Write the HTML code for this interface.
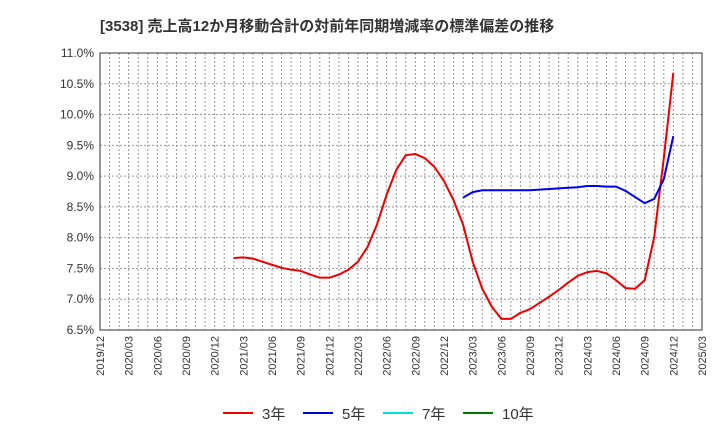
<!DOCTYPE html>
<html><head><meta charset="utf-8"><style>
body{margin:0;background:#fff;font-family:"Liberation Sans","Noto Sans CJK JP",sans-serif;}
svg text{font-family:"Liberation Sans","Noto Sans CJK JP",sans-serif;}
</style></head><body>
<svg id="c" width="720" height="440" xmlns="http://www.w3.org/2000/svg">
<text x="100" y="31" font-size="15" font-weight="bold" fill="#333">[3538]  売上高12か月移動合計の対前年同期増減率の標準偏差の推移</text>
<g id="grid"></g><g id="axes"></g><g id="series"></g>
<g>
<g><line x1="223" y1="413" x2="253" y2="413" stroke="#e00" stroke-width="2"/><text x="262" y="419" font-size="15" fill="#333">3年</text></g>
<g><line x1="303" y1="413" x2="333" y2="413" stroke="#00c" stroke-width="2"/><text x="342" y="419" font-size="15" fill="#333">5年</text></g>
<g><line x1="383" y1="413" x2="413" y2="413" stroke="#0dd" stroke-width="2"/><text x="422" y="419" font-size="15" fill="#333">7年</text></g>
<g><line x1="463" y1="413" x2="493" y2="413" stroke="#070" stroke-width="2"/><text x="502" y="419" font-size="15" fill="#333">10年</text></g>
</g>
</svg>
<script>
const xTickLabels=["2019/12","2020/03","2020/06","2020/09","2020/12","2021/03","2021/06","2021/09","2021/12","2022/03","2022/06","2022/09","2022/12","2023/03","2023/06","2023/09","2023/12","2024/03","2024/06","2024/09","2024/12","2025/03"];
const yTicks=[6.5,7.0,7.5,8.0,8.5,9.0,9.5,10.0,10.5,11.0];
const red3Start=14;
const red3=[7.67,7.68,7.66,7.61,7.56,7.51,7.48,7.46,7.40,7.35,7.35,7.40,7.48,7.61,7.85,8.22,8.70,9.10,9.34,9.36,9.29,9.15,8.92,8.61,8.21,7.61,7.17,6.88,6.68,6.68,6.78,6.84,6.94,7.04,7.15,7.27,7.38,7.44,7.46,7.42,7.31,7.18,7.17,7.31,8.01,9.29,10.68];
const blue5Start=38;
const blue5=[8.65,8.74,8.77,8.77,8.77,8.77,8.77,8.77,8.78,8.79,8.80,8.81,8.82,8.84,8.84,8.83,8.83,8.76,8.66,8.56,8.63,8.95,9.65];
const L=100,R=702,T=53,B=330,NM=63;
const X=m=>L+(R-L)*m/NM, Y=v=>B-(v-6.5)/4.5*(B-T);
const NS="http://www.w3.org/2000/svg";
function mk(p,t,a){const e=document.createElementNS(NS,t);for(const k in a)e.setAttribute(k,a[k]);p.appendChild(e);return e;}
const g=document.getElementById('grid'),ax=document.getElementById('axes'),s=document.getElementById('series');
for(let m=1;m<NM;m++){const l=mk(g,'line',{x1:X(m),x2:X(m),y1:T,y2:B,stroke:'#999','stroke-dasharray':'2,2','stroke-width':1});

}
yTicks.forEach(v=>{const l=mk(g,'line',{x1:L,x2:R,y1:Y(v),y2:Y(v),stroke:'#999','stroke-dasharray':'2,2','stroke-width':1});


const t=mk(ax,'text',{x:L-6,y:Y(v)+4,'text-anchor':'end','font-size':12,fill:'#333'});t.textContent=v.toFixed(1)+'%';

});
const fr=mk(ax,'rect',{x:L,y:T,width:R-L,height:B-T,fill:'none',stroke:'#333','stroke-width':1});


xTickLabels.forEach((lab,i)=>{const x=X(i*3);const t=mk(ax,'text',{x:x+4,y:B+6,'text-anchor':'end','font-size':11,fill:'#333',transform:`rotate(-90 ${x+4} ${B+6})`});t.textContent=lab;

});
function line(arr,st,col,name){const p=mk(s,'polyline',{points:arr.map((v,i)=>X(st+i)+','+Y(v)).join(' '),fill:'none',stroke:col,'stroke-width':2,'stroke-linejoin':'round'});

}
line(red3,red3Start,'#e00','series-3y');
line(blue5,blue5Start,'#00e','series-5y');
</script>
</body></html>
